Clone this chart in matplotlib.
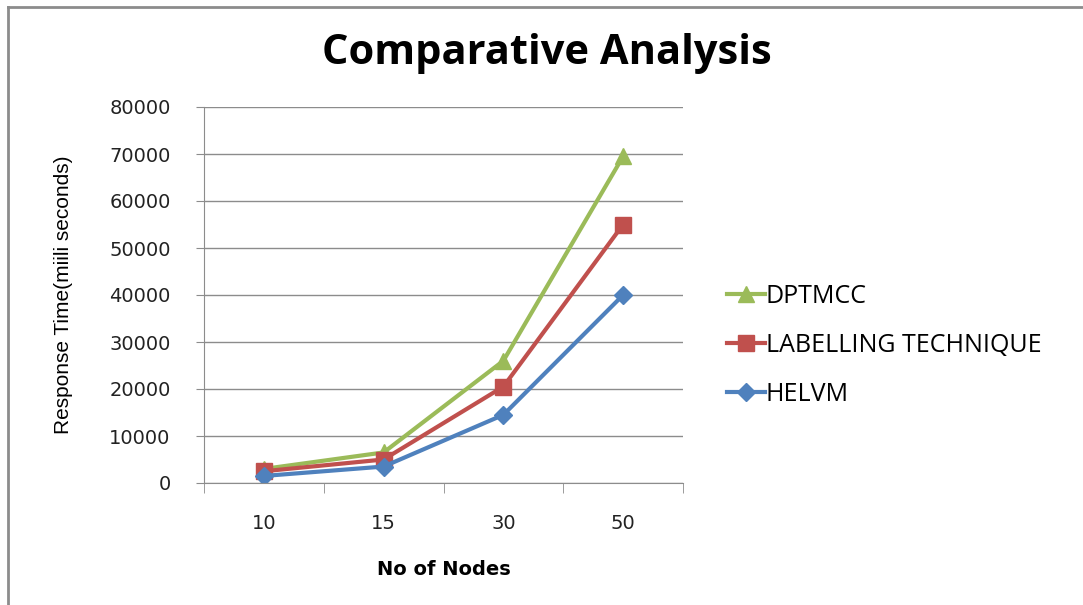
import numpy as np
import matplotlib.pyplot as plt

# ------------------------
# data
# ------------------------
nodes = ['10', '15', '30', '50']
dptmcc = [3000, 6500, 26000, 69500]
labelling = [2500, 5000, 20500, 55000]
helvm = [1500, 3500, 14500, 40000]

fig = plt.figure(figsize=(10.83, 6.05), dpi=100)
ax = fig.add_axes([204/1083, 1-483/605, (683-204)/1083, (483-107)/605])

x = np.arange(len(nodes))
ax.plot(x, dptmcc, color='#9bbb59', lw=3, marker='^', ms=12, label='DPTMCC')
ax.plot(x, labelling, color='#c0504d', lw=3, marker='s', ms=12, label='LABELLING TECHNIQUE')
ax.plot(x, helvm, color='#4f81bd', lw=3, marker='D', ms=9, label='HELVM')

ax.set_xlim(-0.5, 3.5)
ax.set_ylim(0, 80000)
ax.set_yticks(range(0, 80001, 10000))
ax.grid(axis='y', color='#8c8c8c', lw=1)
ax.set_axisbelow(True)
for s in ['top', 'right']:
    ax.spines[s].set_visible(False)
ax.spines['left'].set_color('#8c8c8c')
ax.spines['bottom'].set_color('#8c8c8c')

ax.set_xticks(x)
ax.set_xticklabels(nodes)
ax.set_xticks(np.arange(-0.5, 4, 1), minor=True)
ax.tick_params(axis='x', which='major', length=0, pad=22, labelsize=14)
ax.tick_params(axis='x', which='minor', length=7, color='#8c8c8c', direction='out')
ax.tick_params(axis='y', length=6, color='#8c8c8c', labelsize=14, pad=18)
for t in ax.get_xticklabels() + ax.get_yticklabels():
    t.set_color('#222222')

ax.set_xlabel('No of Nodes', fontsize=14, fontweight='bold')
ax.xaxis.set_label_coords(0.5, -0.205)
ax.set_ylabel('Response Time(miili seconds)', fontsize=15, family='Liberation Sans')
ax.yaxis.set_label_coords(-0.273, 0.5)

fig.text(0.505, 1-54/605, 'Comparative Analysis', ha='center', va='center',
         fontsize=30, fontweight='bold', family='Open Sans')

ax.legend(loc='center left', bbox_to_anchor=(1.045, 0.366), frameon=False,
          handlelength=1.5, labelspacing=0.95, handletextpad=0.05,
          prop={'family': 'Open Sans', 'size': 18})

# figure border
fig.add_artist(plt.Line2D([8/1083, 8/1083], [0, 1-7/605], color='#8c8c8c', lw=2,
                          transform=fig.transFigure))
fig.add_artist(plt.Line2D([8/1083, 1], [1-7/605, 1-7/605], color='#8c8c8c', lw=2,
                          transform=fig.transFigure))

fig.savefig('out.png', dpi=100)
